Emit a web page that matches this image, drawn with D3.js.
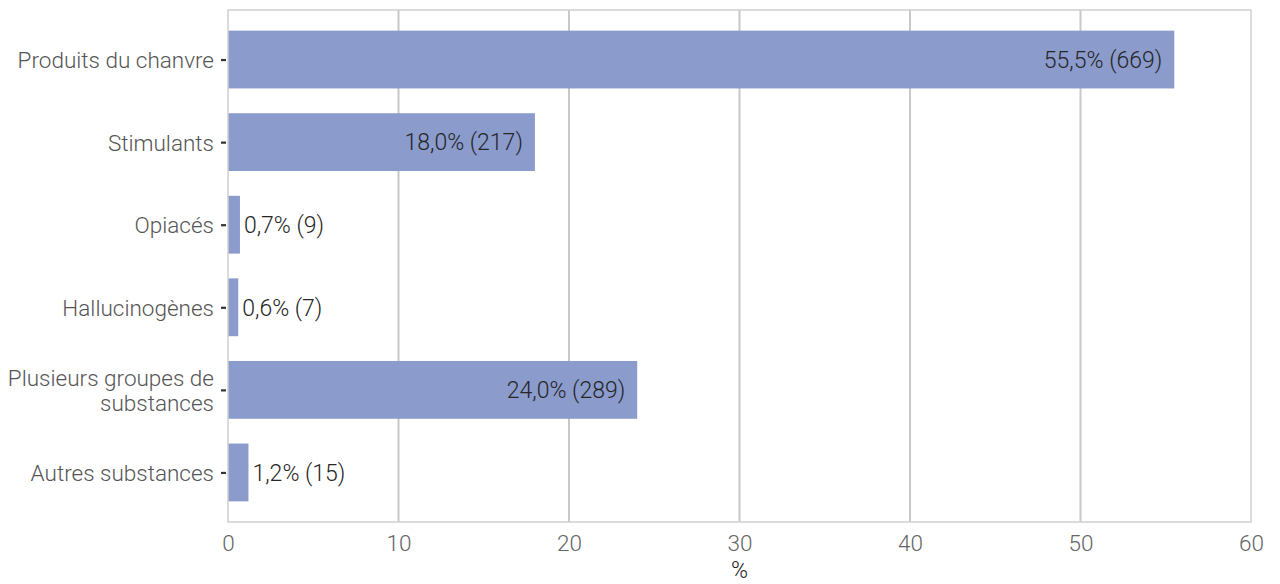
<!DOCTYPE html>
<html><head><meta charset="utf-8">
<script src="https://cdn.jsdelivr.net/npm/d3@7"></script>
<style>
body{margin:0;background:#fff;}
svg{display:block;}
</style></head>
<body>
<svg id="chart" width="1280" height="584"></svg>
<script>
const categories = ["Produits du chanvre","Stimulants","Opiacés","Hallucinogènes","Plusieurs groupes de\nsubstances","Autres substances"];
const percents = [55.5, 18.0, 0.7, 0.6, 24.0, 1.2];
const counts = [669, 217, 9, 7, 289, 15];
const xTicks = [0,10,20,30,40,50,60];
const xTitle = "%";

const W=1280,H=584;
const m={left:228,right:29,top:10,bottom:62};
const svg=d3.select("#chart");
const x=d3.scaleLinear().domain([0,60]).range([m.left,W-m.right]);
const y=d3.scalePoint().domain(categories).range([m.top,H-m.bottom]).padding(0.6);
const bh=y.step()*0.7;
const font="Roboto, 'Noto Sans', sans-serif";

// grid
svg.append("g").selectAll("line").data(xTicks.filter(t=>t>0&&t<60)).join("line")
  .attr("x1",d=>x(d)).attr("x2",d=>x(d)).attr("y1",m.top).attr("y2",H-m.bottom)
  .attr("stroke","#c8c8c8").attr("stroke-width",2);

// bars
svg.append("g").selectAll("rect").data(categories).join("rect")
  .attr("x",x(0)).attr("y",d=>y(d)-bh/2)
  .attr("width",(d,i)=>x(percents[i])-x(0)).attr("height",bh)
  .attr("fill","#8a9bcc");

// panel border
svg.append("rect").attr("x",m.left).attr("y",m.top).attr("width",W-m.right-m.left).attr("height",H-m.bottom-m.top)
  .attr("fill","none").attr("stroke","#d0d0d0").attr("stroke-width",1.5);

// data labels
const fmt=v=>v.toFixed(1).replace(".",",");
svg.append("g").selectAll("text").data(categories).join("text")
  .attr("x",(d,i)=>percents[i]>10? x(percents[i])-12 : x(percents[i])+4)
  .attr("y",d=>y(d)).attr("dy","0.36em")
  .attr("text-anchor",(d,i)=>percents[i]>10?"end":"start")
  .attr("font-family",font).attr("font-weight",300).attr("font-size",23).attr("fill","#262626")
  .text((d,i)=>`${fmt(percents[i])}% (${counts[i]})`);

// y axis
const ya=d3.axisLeft(y).tickSize(5).tickPadding(5).tickFormat("");
const gy=svg.append("g").attr("transform",`translate(${m.left-2},0)`).call(ya);
gy.select(".domain").remove();
gy.selectAll(".tick line").attr("stroke","#333").attr("stroke-width",2.2);
gy.selectAll(".tick").each(function(d){
  const lines=d.split("\n");
  const t=d3.select(this).append("text").attr("x",-12).attr("text-anchor","end")
    .attr("font-family",font).attr("font-weight",300).attr("font-size",22.5).attr("fill","#555");
  const lh=25;
  lines.forEach((l,k)=>{
    t.append("tspan").attr("x",-12).attr("y",(k-(lines.length-1)/2)*lh).attr("dy","0.36em").text(l);
  });
});

// x axis
const xa=d3.axisBottom(x).tickValues(xTicks).tickSize(0).tickPadding(13);
const gx=svg.append("g").attr("transform",`translate(0,${H-m.bottom})`).call(xa);
gx.select(".domain").remove();
gx.selectAll(".tick text").attr("font-family",font).attr("font-weight",300).attr("font-size",22.5).attr("fill","#666");

svg.append("text").attr("x",(x(0)+x(60))/2).attr("y",H-6)
  .attr("text-anchor","middle").attr("font-family",font).attr("font-weight",300).attr("font-size",23).attr("fill","#222").text(xTitle);
</script>
</body></html>
